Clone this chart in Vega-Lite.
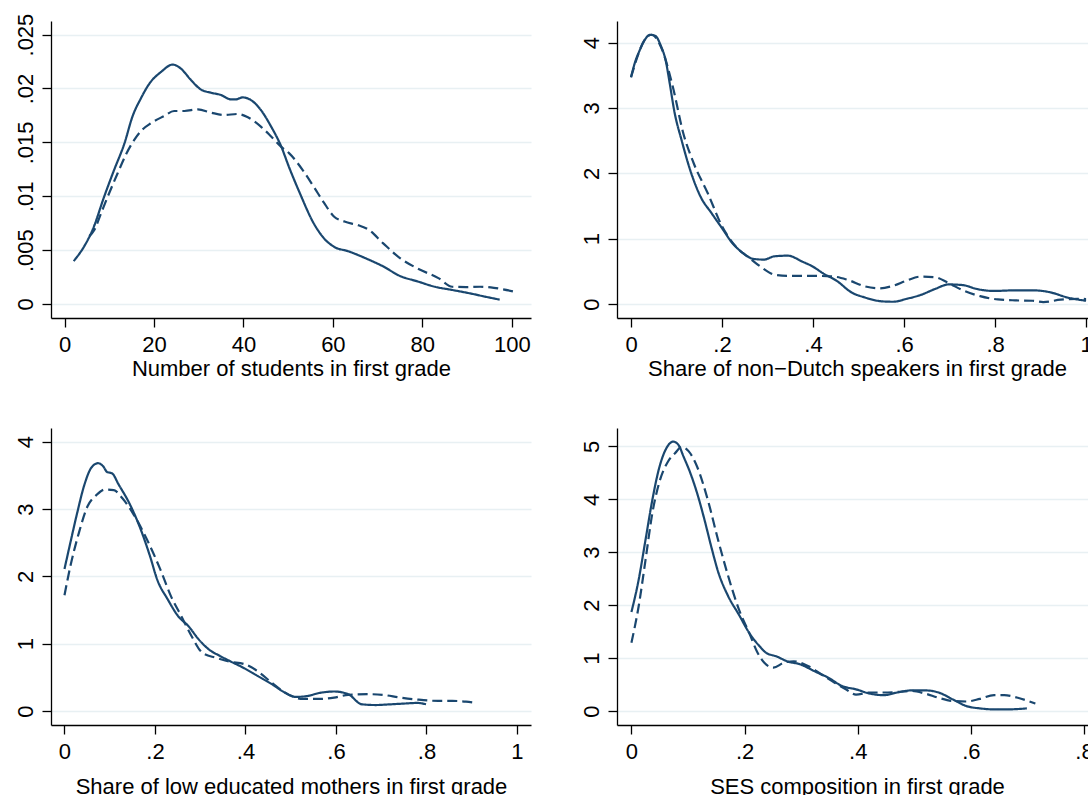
{
  "$schema": "https://vega.github.io/schema/vega-lite/v6.json",
  "autosize": {"type": "pad"},
  "padding": {"left": 14, "top": 13, "right": -7, "bottom": -2},
  "background": "white",
  "config": {
    "view": {"stroke": null},
    "font": "Liberation Sans",
    "axis": {
      "labelFont": "Liberation Sans", "titleFont": "Liberation Sans",
      "labelFontSize": 22, "titleFontSize": 22,
      "labelColor": "#000000", "titleColor": "#000000", "titleFontWeight": "normal",
      "domainColor": "#000000", "tickColor": "#000000",
      "domainWidth": 1.3, "tickWidth": 1.3, "tickSize": 9,
      "labelFlush": false, "labelOverlap": false
    },
    "axisX": {"grid": false, "labelAngle": 0, "labelBaseline": "top", "labelPadding": 7, "titlePadding": 3},
    "axisY": {"grid": true, "gridColor": "#e8f0f3", "gridWidth": 1.5, "labelAngle": 270, "labelAlign": "center", "labelBaseline": "alphabetic", "labelPadding": 9.5, "title": null}
  },
  "columns": 2,
  "spacing": {"row": 110, "column": 86},
  "bounds": "flush",
  "resolve": {"scale": {"x": "independent", "y": "independent"}},
  "datasets": {
    "p1": [
      {"s": "solid", "x": 2.05, "y": 0.00398}, {"s": "solid", "x": 4.43, "y": 0.00537}, {"s": "solid", "x": 6.3, "y": 0.0069},
      {"s": "solid", "x": 8.9, "y": 0.01}, {"s": "solid", "x": 11.1, "y": 0.01245}, {"s": "solid", "x": 13.4, "y": 0.0149},
      {"s": "solid", "x": 15.2, "y": 0.0174}, {"s": "solid", "x": 17.1, "y": 0.0191}, {"s": "solid", "x": 19, "y": 0.02046},
      {"s": "solid", "x": 21.6, "y": 0.02154}, {"s": "solid", "x": 24.2, "y": 0.02222}, {"s": "solid", "x": 26, "y": 0.02185},
      {"s": "solid", "x": 28.3, "y": 0.02077}, {"s": "solid", "x": 30.5, "y": 0.0199}, {"s": "solid", "x": 32.8, "y": 0.0196},
      {"s": "solid", "x": 35, "y": 0.01939}, {"s": "solid", "x": 37.2, "y": 0.01899}, {"s": "solid", "x": 38.3, "y": 0.01899},
      {"s": "solid", "x": 39.8, "y": 0.01917}, {"s": "solid", "x": 41.7, "y": 0.01892}, {"s": "solid", "x": 43.9, "y": 0.018},
      {"s": "solid", "x": 46.2, "y": 0.01646}, {"s": "solid", "x": 48.4, "y": 0.01467}, {"s": "solid", "x": 50.2, "y": 0.0127},
      {"s": "solid", "x": 52.6, "y": 0.0103}, {"s": "solid", "x": 55.7, "y": 0.0075}, {"s": "solid", "x": 58, "y": 0.0061},
      {"s": "solid", "x": 60.3, "y": 0.0053}, {"s": "solid", "x": 63.4, "y": 0.0049}, {"s": "solid", "x": 68.1, "y": 0.0041},
      {"s": "solid", "x": 71.2, "y": 0.0035}, {"s": "solid", "x": 75, "y": 0.0026}, {"s": "solid", "x": 78.9, "y": 0.0021},
      {"s": "solid", "x": 82.8, "y": 0.0016}, {"s": "solid", "x": 86.7, "y": 0.0013}, {"s": "solid", "x": 90.5, "y": 0.001},
      {"s": "solid", "x": 94.4, "y": 0.00065}, {"s": "solid", "x": 97.3, "y": 0.0004},
      {"s": "dashed", "x": 5.55, "y": 0.0063}, {"s": "dashed", "x": 6.7, "y": 0.0069}, {"s": "dashed", "x": 8.2, "y": 0.00845},
      {"s": "dashed", "x": 10, "y": 0.0103}, {"s": "dashed", "x": 11.9, "y": 0.01215}, {"s": "dashed", "x": 13.7, "y": 0.01384},
      {"s": "dashed", "x": 15.6, "y": 0.01523}, {"s": "dashed", "x": 17.5, "y": 0.01622}, {"s": "dashed", "x": 19.3, "y": 0.01677},
      {"s": "dashed", "x": 22.3, "y": 0.01745}, {"s": "dashed", "x": 24.5, "y": 0.01791}, {"s": "dashed", "x": 26.8, "y": 0.01791},
      {"s": "dashed", "x": 29.8, "y": 0.01806}, {"s": "dashed", "x": 32.8, "y": 0.01775}, {"s": "dashed", "x": 35.7, "y": 0.01754},
      {"s": "dashed", "x": 38.7, "y": 0.01763}, {"s": "dashed", "x": 41, "y": 0.01732}, {"s": "dashed", "x": 43.9, "y": 0.01646},
      {"s": "dashed", "x": 46.2, "y": 0.01554}, {"s": "dashed", "x": 48.4, "y": 0.0146}, {"s": "dashed", "x": 50.2, "y": 0.014},
      {"s": "dashed", "x": 53.3, "y": 0.0124}, {"s": "dashed", "x": 55.7, "y": 0.0109}, {"s": "dashed", "x": 58, "y": 0.0094},
      {"s": "dashed", "x": 60.3, "y": 0.0081}, {"s": "dashed", "x": 62.6, "y": 0.00765}, {"s": "dashed", "x": 65.7, "y": 0.0073},
      {"s": "dashed", "x": 68, "y": 0.0069}, {"s": "dashed", "x": 71.2, "y": 0.00565}, {"s": "dashed", "x": 75, "y": 0.00426},
      {"s": "dashed", "x": 78.9, "y": 0.0033}, {"s": "dashed", "x": 83.6, "y": 0.0024}, {"s": "dashed", "x": 86.7, "y": 0.0016},
      {"s": "dashed", "x": 89.8, "y": 0.00157}, {"s": "dashed", "x": 92.9, "y": 0.0016}, {"s": "dashed", "x": 96, "y": 0.0015},
      {"s": "dashed", "x": 101, "y": 0.0011}
    ],
    "p2": [
      {"s": "solid", "x": 0, "y": 3.47}, {"s": "solid", "x": 0.008, "y": 3.68}, {"s": "solid", "x": 0.019, "y": 3.88},
      {"s": "solid", "x": 0.031, "y": 4.05}, {"s": "solid", "x": 0.042, "y": 4.12}, {"s": "solid", "x": 0.054, "y": 4.1},
      {"s": "solid", "x": 0.065, "y": 3.96}, {"s": "solid", "x": 0.077, "y": 3.7}, {"s": "solid", "x": 0.084, "y": 3.42},
      {"s": "solid", "x": 0.096, "y": 2.92}, {"s": "solid", "x": 0.111, "y": 2.51}, {"s": "solid", "x": 0.13, "y": 2.05},
      {"s": "solid", "x": 0.153, "y": 1.64}, {"s": "solid", "x": 0.177, "y": 1.39}, {"s": "solid", "x": 0.2, "y": 1.16},
      {"s": "solid", "x": 0.223, "y": 0.93}, {"s": "solid", "x": 0.246, "y": 0.78}, {"s": "solid", "x": 0.269, "y": 0.69},
      {"s": "solid", "x": 0.292, "y": 0.68}, {"s": "solid", "x": 0.315, "y": 0.73}, {"s": "solid", "x": 0.345, "y": 0.74},
      {"s": "solid", "x": 0.376, "y": 0.65}, {"s": "solid", "x": 0.399, "y": 0.575}, {"s": "solid", "x": 0.422, "y": 0.47},
      {"s": "solid", "x": 0.453, "y": 0.35}, {"s": "solid", "x": 0.484, "y": 0.18}, {"s": "solid", "x": 0.514, "y": 0.1},
      {"s": "solid", "x": 0.553, "y": 0.04}, {"s": "solid", "x": 0.576, "y": 0.035}, {"s": "solid", "x": 0.606, "y": 0.08},
      {"s": "solid", "x": 0.637, "y": 0.14}, {"s": "solid", "x": 0.668, "y": 0.23}, {"s": "solid", "x": 0.698, "y": 0.3},
      {"s": "solid", "x": 0.729, "y": 0.29}, {"s": "solid", "x": 0.76, "y": 0.23}, {"s": "solid", "x": 0.798, "y": 0.2},
      {"s": "solid", "x": 0.844, "y": 0.21}, {"s": "solid", "x": 0.883, "y": 0.21}, {"s": "solid", "x": 0.921, "y": 0.18},
      {"s": "solid", "x": 0.959, "y": 0.1}, {"s": "solid", "x": 1.0, "y": 0.05},
      {"s": "dashed", "x": 0, "y": 3.47}, {"s": "dashed", "x": 0.031, "y": 4.05}, {"s": "dashed", "x": 0.045, "y": 4.12},
      {"s": "dashed", "x": 0.069, "y": 3.88}, {"s": "dashed", "x": 0.092, "y": 3.32}, {"s": "dashed", "x": 0.115, "y": 2.61},
      {"s": "dashed", "x": 0.138, "y": 2.15}, {"s": "dashed", "x": 0.169, "y": 1.69}, {"s": "dashed", "x": 0.2, "y": 1.19},
      {"s": "dashed", "x": 0.23, "y": 0.88}, {"s": "dashed", "x": 0.261, "y": 0.7}, {"s": "dashed", "x": 0.284, "y": 0.575},
      {"s": "dashed", "x": 0.315, "y": 0.45}, {"s": "dashed", "x": 0.345, "y": 0.43}, {"s": "dashed", "x": 0.407, "y": 0.43},
      {"s": "dashed", "x": 0.445, "y": 0.42}, {"s": "dashed", "x": 0.476, "y": 0.37}, {"s": "dashed", "x": 0.514, "y": 0.27},
      {"s": "dashed", "x": 0.545, "y": 0.24}, {"s": "dashed", "x": 0.576, "y": 0.28}, {"s": "dashed", "x": 0.606, "y": 0.36},
      {"s": "dashed", "x": 0.637, "y": 0.42}, {"s": "dashed", "x": 0.668, "y": 0.41}, {"s": "dashed", "x": 0.698, "y": 0.32},
      {"s": "dashed", "x": 0.729, "y": 0.21}, {"s": "dashed", "x": 0.767, "y": 0.12}, {"s": "dashed", "x": 0.806, "y": 0.07},
      {"s": "dashed", "x": 0.844, "y": 0.056}, {"s": "dashed", "x": 0.883, "y": 0.05}, {"s": "dashed", "x": 0.906, "y": 0.03},
      {"s": "dashed", "x": 0.944, "y": 0.066}, {"s": "dashed", "x": 0.982, "y": 0.08}, {"s": "dashed", "x": 1.0, "y": 0.076}
    ],
    "p3": [
      {"s": "solid", "x": 0, "y": 2.11}, {"s": "solid", "x": 0.013, "y": 2.5}, {"s": "solid", "x": 0.028, "y": 2.94},
      {"s": "solid", "x": 0.044, "y": 3.36}, {"s": "solid", "x": 0.059, "y": 3.61}, {"s": "solid", "x": 0.074, "y": 3.68},
      {"s": "solid", "x": 0.086, "y": 3.63}, {"s": "solid", "x": 0.094, "y": 3.55}, {"s": "solid", "x": 0.105, "y": 3.53},
      {"s": "solid", "x": 0.12, "y": 3.36}, {"s": "solid", "x": 0.143, "y": 3.09}, {"s": "solid", "x": 0.166, "y": 2.74},
      {"s": "solid", "x": 0.189, "y": 2.3}, {"s": "solid", "x": 0.205, "y": 1.95}, {"s": "solid", "x": 0.228, "y": 1.66},
      {"s": "solid", "x": 0.251, "y": 1.41}, {"s": "solid", "x": 0.274, "y": 1.26}, {"s": "solid", "x": 0.297, "y": 1.06},
      {"s": "solid", "x": 0.32, "y": 0.91}, {"s": "solid", "x": 0.343, "y": 0.82}, {"s": "solid", "x": 0.366, "y": 0.74},
      {"s": "solid", "x": 0.396, "y": 0.64}, {"s": "solid", "x": 0.427, "y": 0.52}, {"s": "solid", "x": 0.458, "y": 0.4},
      {"s": "solid", "x": 0.488, "y": 0.27}, {"s": "solid", "x": 0.511, "y": 0.21}, {"s": "solid", "x": 0.534, "y": 0.22},
      {"s": "solid", "x": 0.565, "y": 0.27}, {"s": "solid", "x": 0.596, "y": 0.29}, {"s": "solid", "x": 0.627, "y": 0.25},
      {"s": "solid", "x": 0.657, "y": 0.1}, {"s": "solid", "x": 0.688, "y": 0.089}, {"s": "solid", "x": 0.719, "y": 0.099},
      {"s": "solid", "x": 0.749, "y": 0.11}, {"s": "solid", "x": 0.78, "y": 0.12}, {"s": "solid", "x": 0.799, "y": 0.1},
      {"s": "dashed", "x": 0, "y": 1.72}, {"s": "dashed", "x": 0.013, "y": 2.15}, {"s": "dashed", "x": 0.032, "y": 2.65},
      {"s": "dashed", "x": 0.051, "y": 3.04}, {"s": "dashed", "x": 0.071, "y": 3.21}, {"s": "dashed", "x": 0.09, "y": 3.29},
      {"s": "dashed", "x": 0.109, "y": 3.28}, {"s": "dashed", "x": 0.128, "y": 3.16}, {"s": "dashed", "x": 0.151, "y": 2.94},
      {"s": "dashed", "x": 0.182, "y": 2.55}, {"s": "dashed", "x": 0.212, "y": 2.1}, {"s": "dashed", "x": 0.235, "y": 1.71},
      {"s": "dashed", "x": 0.258, "y": 1.41}, {"s": "dashed", "x": 0.281, "y": 1.11}, {"s": "dashed", "x": 0.304, "y": 0.87},
      {"s": "dashed", "x": 0.335, "y": 0.79}, {"s": "dashed", "x": 0.366, "y": 0.73}, {"s": "dashed", "x": 0.396, "y": 0.7},
      {"s": "dashed", "x": 0.427, "y": 0.59}, {"s": "dashed", "x": 0.458, "y": 0.42}, {"s": "dashed", "x": 0.488, "y": 0.27},
      {"s": "dashed", "x": 0.527, "y": 0.18}, {"s": "dashed", "x": 0.565, "y": 0.18}, {"s": "dashed", "x": 0.596, "y": 0.2},
      {"s": "dashed", "x": 0.627, "y": 0.24}, {"s": "dashed", "x": 0.673, "y": 0.25}, {"s": "dashed", "x": 0.703, "y": 0.24},
      {"s": "dashed", "x": 0.742, "y": 0.2}, {"s": "dashed", "x": 0.78, "y": 0.17}, {"s": "dashed", "x": 0.826, "y": 0.15},
      {"s": "dashed", "x": 0.857, "y": 0.15}, {"s": "dashed", "x": 0.887, "y": 0.14}, {"s": "dashed", "x": 0.91, "y": 0.12}
    ],
    "p4": [
      {"s": "solid", "x": 0, "y": 1.87}, {"s": "solid", "x": 0.0128, "y": 2.48}, {"s": "solid", "x": 0.025, "y": 3.24},
      {"s": "solid", "x": 0.037, "y": 3.99}, {"s": "solid", "x": 0.049, "y": 4.59}, {"s": "solid", "x": 0.062, "y": 4.97},
      {"s": "solid", "x": 0.074, "y": 5.09}, {"s": "solid", "x": 0.083, "y": 5.03}, {"s": "solid", "x": 0.092, "y": 4.81},
      {"s": "solid", "x": 0.104, "y": 4.5}, {"s": "solid", "x": 0.116, "y": 4.12}, {"s": "solid", "x": 0.129, "y": 3.62},
      {"s": "solid", "x": 0.141, "y": 3.11}, {"s": "solid", "x": 0.153, "y": 2.64}, {"s": "solid", "x": 0.171, "y": 2.17},
      {"s": "solid", "x": 0.19, "y": 1.82}, {"s": "solid", "x": 0.208, "y": 1.48}, {"s": "solid", "x": 0.226, "y": 1.23},
      {"s": "solid", "x": 0.238, "y": 1.1}, {"s": "solid", "x": 0.257, "y": 1.03}, {"s": "solid", "x": 0.275, "y": 0.94},
      {"s": "solid", "x": 0.299, "y": 0.88}, {"s": "solid", "x": 0.324, "y": 0.75}, {"s": "solid", "x": 0.348, "y": 0.63},
      {"s": "solid", "x": 0.373, "y": 0.47}, {"s": "solid", "x": 0.397, "y": 0.41}, {"s": "solid", "x": 0.421, "y": 0.33},
      {"s": "solid", "x": 0.446, "y": 0.3}, {"s": "solid", "x": 0.47, "y": 0.35}, {"s": "solid", "x": 0.495, "y": 0.39},
      {"s": "solid", "x": 0.519, "y": 0.39}, {"s": "solid", "x": 0.543, "y": 0.35}, {"s": "solid", "x": 0.568, "y": 0.22},
      {"s": "solid", "x": 0.592, "y": 0.094}, {"s": "solid", "x": 0.616, "y": 0.05}, {"s": "solid", "x": 0.641, "y": 0.031},
      {"s": "solid", "x": 0.665, "y": 0.031}, {"s": "solid", "x": 0.699, "y": 0.05},
      {"s": "dashed", "x": 0, "y": 1.29}, {"s": "dashed", "x": 0.0128, "y": 1.98}, {"s": "dashed", "x": 0.025, "y": 2.86},
      {"s": "dashed", "x": 0.037, "y": 3.74}, {"s": "dashed", "x": 0.049, "y": 4.31}, {"s": "dashed", "x": 0.065, "y": 4.72},
      {"s": "dashed", "x": 0.077, "y": 4.87}, {"s": "dashed", "x": 0.089, "y": 4.99}, {"s": "dashed", "x": 0.101, "y": 4.91},
      {"s": "dashed", "x": 0.116, "y": 4.62}, {"s": "dashed", "x": 0.135, "y": 3.99}, {"s": "dashed", "x": 0.153, "y": 3.24},
      {"s": "dashed", "x": 0.171, "y": 2.55}, {"s": "dashed", "x": 0.19, "y": 1.92}, {"s": "dashed", "x": 0.208, "y": 1.48},
      {"s": "dashed", "x": 0.223, "y": 1.1}, {"s": "dashed", "x": 0.235, "y": 0.91}, {"s": "dashed", "x": 0.251, "y": 0.82},
      {"s": "dashed", "x": 0.269, "y": 0.91}, {"s": "dashed", "x": 0.287, "y": 0.94}, {"s": "dashed", "x": 0.312, "y": 0.85},
      {"s": "dashed", "x": 0.336, "y": 0.69}, {"s": "dashed", "x": 0.36, "y": 0.53}, {"s": "dashed", "x": 0.379, "y": 0.41},
      {"s": "dashed", "x": 0.397, "y": 0.31}, {"s": "dashed", "x": 0.421, "y": 0.35}, {"s": "dashed", "x": 0.446, "y": 0.35},
      {"s": "dashed", "x": 0.47, "y": 0.36}, {"s": "dashed", "x": 0.495, "y": 0.38}, {"s": "dashed", "x": 0.519, "y": 0.33},
      {"s": "dashed", "x": 0.543, "y": 0.25}, {"s": "dashed", "x": 0.568, "y": 0.19}, {"s": "dashed", "x": 0.592, "y": 0.18},
      {"s": "dashed", "x": 0.616, "y": 0.23}, {"s": "dashed", "x": 0.641, "y": 0.3}, {"s": "dashed", "x": 0.659, "y": 0.3},
      {"s": "dashed", "x": 0.683, "y": 0.25}, {"s": "dashed", "x": 0.714, "y": 0.14}
    ]
  },
  "concat": [
    {
      "data": {"name": "p1"},
      "width": 480, "height": 297,
      "mark": {"type": "line", "color": "#1a476f", "strokeWidth": 2.2, "interpolate": "monotone"},
      "encoding": {
        "x": {"field": "x", "type": "quantitative", "scale": {"domain": [-3.02, 104.3], "nice": false, "zero": false},
              "axis": {"values": [0, 20, 40, 60, 80, 100], "title": "Number of students in first grade"}},
        "y": {"field": "y", "type": "quantitative", "scale": {"domain": [-0.0013, 0.02626], "nice": false, "zero": false},
              "axis": {"values": [0, 0.005, 0.01, 0.015, 0.02, 0.025], "labelExpr": "datum.value > 0 && datum.value < 1 ? substring(toString(datum.value), 1) : toString(datum.value)"}},
        "strokeDash": {"field": "s", "type": "nominal", "scale": {"domain": ["solid", "dashed"], "range": [[1, 0], [10, 5]]}, "legend": null}
      }
    },
    {
      "data": {"name": "p2"},
      "width": 480, "height": 297,
      "mark": {"type": "line", "color": "#1a476f", "strokeWidth": 2.2, "interpolate": "monotone"},
      "encoding": {
        "x": {"field": "x", "type": "quantitative", "scale": {"domain": [-0.0308, 1.024], "nice": false, "zero": false},
              "axis": {"values": [0, 0.2, 0.4, 0.6, 0.8, 1], "labelExpr": "datum.value > 0 && datum.value < 1 ? substring(toString(datum.value), 1) : toString(datum.value)", "title": "Share of non−Dutch speakers in first grade"}},
        "y": {"field": "y", "type": "quantitative", "scale": {"domain": [-0.2137, 4.33], "nice": false, "zero": false},
              "axis": {"values": [0, 1, 2, 3, 4]}},
        "strokeDash": {"field": "s", "type": "nominal", "scale": {"domain": ["solid", "dashed"], "range": [[1, 0], [10, 5]]}, "legend": null}
      }
    },
    {
      "data": {"name": "p3"},
      "width": 480, "height": 297,
      "mark": {"type": "line", "color": "#1a476f", "strokeWidth": 2.2, "interpolate": "monotone"},
      "encoding": {
        "x": {"field": "x", "type": "quantitative", "scale": {"domain": [-0.0298, 1.031], "nice": false, "zero": false},
              "axis": {"values": [0, 0.2, 0.4, 0.6, 0.8, 1], "labelExpr": "datum.value > 0 && datum.value < 1 ? substring(toString(datum.value), 1) : toString(datum.value)", "title": "Share of low educated mothers in first grade", "titlePadding": 14}},
        "y": {"field": "y", "type": "quantitative", "scale": {"domain": [-0.2076, 4.203], "nice": false, "zero": false},
              "axis": {"values": [0, 1, 2, 3, 4]}},
        "strokeDash": {"field": "s", "type": "nominal", "scale": {"domain": ["solid", "dashed"], "range": [[1, 0], [10, 5]]}, "legend": null}
      }
    },
    {
      "data": {"name": "p4"},
      "width": 480, "height": 297,
      "mark": {"type": "line", "color": "#1a476f", "strokeWidth": 2.2, "interpolate": "monotone"},
      "encoding": {
        "x": {"field": "x", "type": "quantitative", "scale": {"domain": [-0.0255, 0.823], "nice": false, "zero": false},
              "axis": {"values": [0, 0.2, 0.4, 0.6, 0.8], "labelExpr": "datum.value > 0 && datum.value < 1 ? substring(toString(datum.value), 1) : toString(datum.value)", "title": "SES composition in first grade", "titlePadding": 14}},
        "y": {"field": "y", "type": "quantitative", "scale": {"domain": [-0.264, 5.347], "nice": false, "zero": false},
              "axis": {"values": [0, 1, 2, 3, 4, 5]}},
        "strokeDash": {"field": "s", "type": "nominal", "scale": {"domain": ["solid", "dashed"], "range": [[1, 0], [10, 5]]}, "legend": null}
      }
    }
  ]
}
